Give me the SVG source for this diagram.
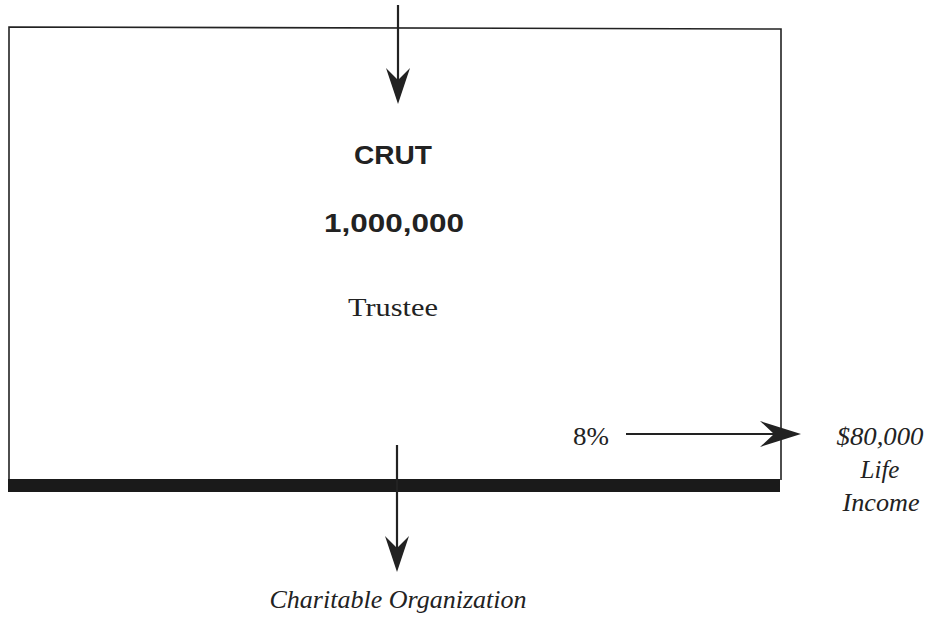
<svg xmlns="http://www.w3.org/2000/svg" width="930" height="619" viewBox="0 0 930 619">
<style>
.ln{stroke:#222;stroke-width:1.6;fill:none}
.ar{stroke:#222;stroke-width:2.2;fill:none}
.hd{fill:#222}
.bold{font-family:"Liberation Sans",Arial,sans-serif;font-weight:bold;font-size:25px;fill:#222;text-anchor:middle}
.ser{font-family:"Liberation Serif","Times New Roman",serif;font-size:26px;fill:#222}
.it{font-family:"Liberation Serif","Times New Roman",serif;font-style:italic;font-size:25px;fill:#222;text-anchor:middle}
</style>
<rect width="930" height="619" fill="#fff"/>
<g id="crut">
<path class="ln" d="M9,480 L9,27 L781,29 L781,480"/>
<rect x="8" y="479" width="772" height="13" fill="#1a1a1a"/>
<text class="bold" x="393" y="164" textLength="78" lengthAdjust="spacingAndGlyphs">CRUT</text>
<text class="bold" x="394" y="232" textLength="140" lengthAdjust="spacingAndGlyphs">1,000,000</text>
<text class="ser" x="393" y="316" text-anchor="middle" textLength="90" lengthAdjust="spacingAndGlyphs">Trustee</text>
</g>
<g id="income">
<text class="it" x="880" y="445" textLength="87" lengthAdjust="spacingAndGlyphs">$80,000</text>
<text class="it" x="880" y="478">Life</text>
<text class="it" x="881" y="511" textLength="77" lengthAdjust="spacingAndGlyphs">Income</text>
</g>
<g id="charity">
<text class="it" x="398" y="608" textLength="257" lengthAdjust="spacingAndGlyphs">Charitable Organization</text>
</g>
<g id="connectors">
<line class="ar" x1="398" y1="5" x2="398" y2="80"/>
<path class="hd" d="M398,104 L386,68 L398,80 L410,68 Z"/>
<line class="ar" x1="397" y1="445" x2="397" y2="548"/>
<path class="hd" d="M397,572 L385,536 L397,548 L409,536 Z"/>
<text class="ser" x="573" y="445" textLength="36" lengthAdjust="spacingAndGlyphs">8%</text>
<line class="ar" x1="626" y1="434" x2="780" y2="434"/>
<path class="hd" d="M801,434 L760,421 L774,434 L760,447 Z"/>
</g>
</svg>
